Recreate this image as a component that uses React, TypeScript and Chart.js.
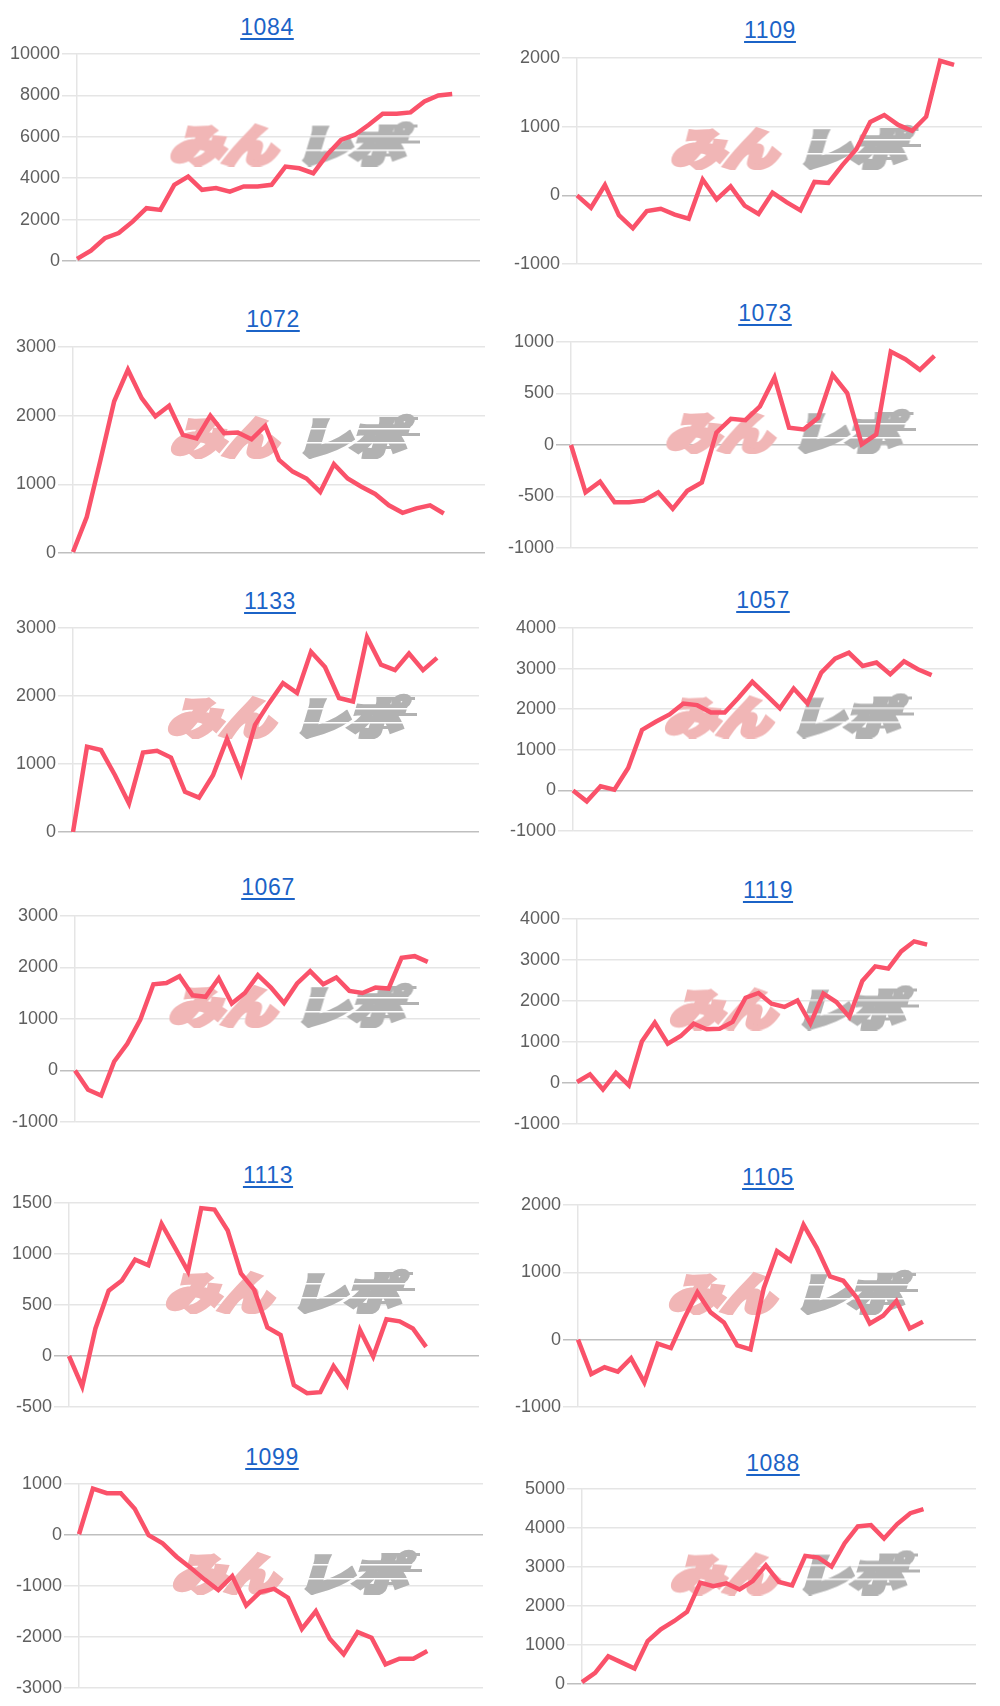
import React, { useEffect, useRef } from "react";
import { Chart, registerables } from "chart.js";

Chart.register(...registerables);

// ---- data ----
const dayLabels = ["1","2","3","4","5","6","7","8","9","10","11","12","13","14","15","16","17","18","19","20","21","22","23","24","25","26","27","28","29","30","31","32"];

const chartNames = ["1084","1109","1072","1073","1133","1057","1067","1119","1113","1105","1099","1088"];

const v1084 = [100, 500, 1100, 1350, 1900, 2550, 2470, 3680, 4080, 3440, 3520, 3350, 3600, 3600, 3680, 4560, 4480, 4240, 5130, 5850, 6100, 6580, 7110, 7110, 7180, 7710, 8000, 8070];
const v1109 = [0, -180, 150, -290, -480, -230, -195, -280, -340, 230, -60, 130, -150, -270, 40, -100, -220, 195, 180, 440, 670, 1070, 1170, 1025, 940, 1145, 1960, 1900];
const v1072 = [15, 525, 1355, 2210, 2670, 2255, 1990, 2145, 1720, 1670, 2000, 1745, 1755, 1655, 1850, 1355, 1185, 1085, 890, 1295, 1085, 965, 860, 695, 585, 650, 695, 575];
const v1073 = [0, -460, -357, -556, -556, -540, -460, -620, -444, -363, 120, 254, 241, 376, 656, 167, 151, 264, 682, 505, 6, 103, 907, 833, 730, 865];
const v1133 = [0, 1255, 1205, 835, 420, 1170, 1195, 1095, 590, 505, 835, 1370, 860, 1575, 1895, 2190, 2045, 2650, 2425, 1970, 1920, 2865, 2460, 2380, 2625, 2380, 2560];
const v1057 = [0, -270, 100, 15, 550, 1490, 1690, 1870, 2140, 2100, 1920, 1920, 2280, 2675, 2350, 2020, 2510, 2140, 2900, 3245, 3390, 3065, 3150, 2860, 3180, 2985, 2840];
const v1067 = [0, -375, -485, 175, 520, 990, 1675, 1700, 1830, 1460, 1430, 1790, 1300, 1505, 1850, 1610, 1310, 1690, 1930, 1675, 1805, 1545, 1505, 1610, 1590, 2190, 2220, 2110];
const v1119 = [25, 210, -160, 245, -55, 1010, 1470, 960, 1145, 1445, 1310, 1325, 1490, 2080, 2195, 1935, 1855, 2015, 1450, 2180, 1975, 1610, 2490, 2845, 2790, 3210, 3455, 3375];
const v1113 = [0, -300, 270, 640, 740, 945, 890, 1295, 1065, 830, 1450, 1435, 1230, 810, 650, 280, 205, -285, -365, -355, -100, -285, 255, -5, 360, 340, 270, 90];
const v1105 = [0, -510, -410, -475, -275, -635, -60, -125, 315, 705, 405, 255, -85, -145, 765, 1315, 1175, 1705, 1365, 940, 875, 625, 240, 355, 575, 165, 265];
const v1099 = [15, 910, 820, 820, 515, -5, -165, -425, -640, -870, -1080, -805, -1380, -1120, -1055, -1230, -1840, -1495, -2035, -2340, -1905, -2015, -2535, -2425, -2425, -2275];
const v1088 = [50, 285, 710, 555, 395, 1100, 1400, 1610, 1850, 2600, 2510, 2580, 2425, 2640, 3045, 2615, 2530, 3285, 3240, 3010, 3610, 4040, 4075, 3730, 4100, 4380, 4485];

const seriesList = [v1084, v1109, v1072, v1073, v1133, v1057, v1067, v1119, v1113, v1105, v1099, v1088];
const labelCounts = [30, 30, 31, 29, 30, 30, 32, 32, 32, 31, 30, 31];
const yMins = [0, -1000, 0, -1000, 0, -1000, -1000, -1000, -500, -1000, -3000, 0];
const yMaxs = [10000, 2000, 3000, 1000, 3000, 4000, 3000, 4000, 1500, 2000, 1000, 5000];
const ySteps = [2000, 1000, 1000, 500, 1000, 1000, 1000, 1000, 500, 1000, 1000, 1000];

// ---- layout (plot area in page pixels, title centre) ----
const layouts = [
  { l: 77, r: 480, t: 54, b: 261, tx: 267, ty: 27 },
  { l: 577, r: 982, t: 58, b: 264, tx: 770, ty: 30 },
  { l: 73, r: 485, t: 347, b: 553, tx: 273, ty: 319 },
  { l: 571, r: 978, t: 342, b: 548, tx: 765, ty: 313 },
  { l: 73, r: 479, t: 628, b: 832, tx: 270, ty: 601 },
  { l: 573, r: 973, t: 628, b: 831, tx: 763, ty: 600 },
  { l: 75, r: 480, t: 916, b: 1122, tx: 268, ty: 887 },
  { l: 577, r: 979, t: 919, b: 1124, tx: 768, ty: 890 },
  { l: 69, r: 479, t: 1203, b: 1407, tx: 268, ty: 1175 },
  { l: 578, r: 976, t: 1205, b: 1407, tx: 768, ty: 1177 },
  { l: 79, r: 483, t: 1484, b: 1688, tx: 272, ty: 1457 },
  { l: 582, r: 976, t: 1489, b: 1684, tx: 773, ty: 1463 },
];

const LINE_COLOR = "rgb(250, 82, 106)";
const PAD_V = 14;
const PAD_R = 6;

let logoCache: HTMLCanvasElement | null = null;
function getLogo(): HTMLCanvasElement {
  if (logoCache) return logoCache;
  const W = 252, H = 46;
  const c = document.createElement("canvas");
  c.width = W;
  c.height = H;
  const g = c.getContext("2d")!;
  g.font = "bold 43px 'Noto Sans CJK JP', 'Noto Sans CJK SC', sans-serif";
  g.textBaseline = "alphabetic";
  g.lineJoin = "miter";
  g.lineWidth = 6;
  const t1 = "みん";
  const t2 = "レポ";
  const w1 = g.measureText(t1).width;
  const w2 = g.measureText(t2).width;
  const pink = "rgb(241, 182, 182)";
  const grey = "rgb(178, 178, 178)";
  // pink part
  g.setTransform(106 / w1, 0, -0.3, 1, 2, 41);
  g.fillStyle = pink;
  g.strokeStyle = pink;
  g.fillText(t1, 0, 0);
  g.strokeText(t1, 0, 0);
  // grey part
  g.setTransform(108 / w2, 0, -0.3, 1, 128, 41);
  g.fillStyle = grey;
  g.strokeStyle = grey;
  g.fillText(t2, 0, 0);
  g.strokeText(t2, 0, 0);
  g.setTransform(1, 0, 0, 1, 0, 0);
  // speed stripes cut into the grey
  g.globalCompositeOperation = "destination-out";
  g.fillStyle = "#000";
  [15, 29].forEach((y) => g.fillRect(120, y, 132, 1.5));
  g.globalCompositeOperation = "source-over";
  g.fillStyle = grey;
  g.fillRect(214, 4, 36, 3);
  g.fillRect(222, 20, 30, 3);
  g.fillRect(205, 33, 24, 3);
  logoCache = c;
  return c;
}

const watermarkPlugin = {
  id: "watermark",
  beforeDatasetsDraw(chart: any) {
    const { left, right, top, bottom } = chart.chartArea;
    const cx = (left + right) / 2;
    const cy = (top + bottom) / 2;
    const ctx = chart.ctx;
    ctx.save();
    ctx.drawImage(getLogo(), cx - 111, cy - 37, 252, 46);
    ctx.restore();
  },
};

function MiniChart({ idx }: { idx: number }) {
  const ref = useRef<HTMLCanvasElement>(null);
  const lay = layouts[idx];
  const cl = Math.max(0, lay.l - 80);
  const axisW = lay.l - cl;
  const ct = lay.t - PAD_V;
  const cw = lay.r + PAD_R - cl;
  const ch = lay.b + PAD_V - ct;

  useEffect(() => {
    const chart = new Chart(ref.current!, {
      type: "line",
      data: {
        labels: dayLabels.slice(0, labelCounts[idx]),
        datasets: [
          {
            data: seriesList[idx],
            borderColor: LINE_COLOR,
            backgroundColor: LINE_COLOR,
            borderWidth: 4.5,
            pointRadius: 0,
            pointHoverRadius: 0,
            tension: 0,
            fill: false,
          },
        ],
      },
      options: {
        animation: false,
        responsive: false,
        devicePixelRatio: 1,
        layout: { padding: { top: PAD_V, bottom: PAD_V, left: 0, right: PAD_R } },
        plugins: { legend: { display: false }, tooltip: { enabled: false }, title: { display: false } },
        scales: {
          x: { display: false },
          y: {
            min: yMins[idx],
            max: yMaxs[idx],
            afterFit: (scale: any) => {
              scale.width = axisW;
            },
            ticks: {
              stepSize: ySteps[idx],
              padding: 2,
              color: "#5f5f5f",
              font: { size: 18, family: "'Liberation Sans', Arial, Helvetica, sans-serif" },
              callback: (v: any) => String(v),
            },
            grid: {
              tickLength: 15,
              lineWidth: 1.5,
              color: (c: any) => (c.tick && c.tick.value === 0 ? "rgba(0,0,0,0.25)" : "rgba(0,0,0,0.1)"),
            },
            border: { display: true, color: "rgba(0,0,0,0.1)", width: 1.5 },
          },
        },
      },
      plugins: [watermarkPlugin],
    });
    return () => chart.destroy();
  }, []);

  return (
    <>
      <div
        style={{
          position: "absolute",
          left: lay.tx - 100,
          top: lay.ty - 15,
          width: 200,
          textAlign: "center",
          lineHeight: "30px",
          fontSize: 23,
          fontFamily: "'Liberation Sans', Arial, Helvetica, sans-serif",
        }}
      >
        <a
          href="#"
          style={{ color: "#1b63c7", textDecorationThickness: "1.5px", textUnderlineOffset: "3px", letterSpacing: "0.6px" }}
        >
          {chartNames[idx]}
        </a>
      </div>
      <canvas
        ref={ref}
        width={cw}
        height={ch}
        style={{ position: "absolute", left: cl, top: ct, width: cw, height: ch }}
      />
    </>
  );
}

export default function App() {
  return (
    <div style={{ position: "absolute", left: 0, top: 0, width: 1000, height: 1706, background: "#fff", overflow: "hidden" }}>
      {chartNames.map((_, i) => (
        <MiniChart key={i} idx={i} />
      ))}
    </div>
  );
}
